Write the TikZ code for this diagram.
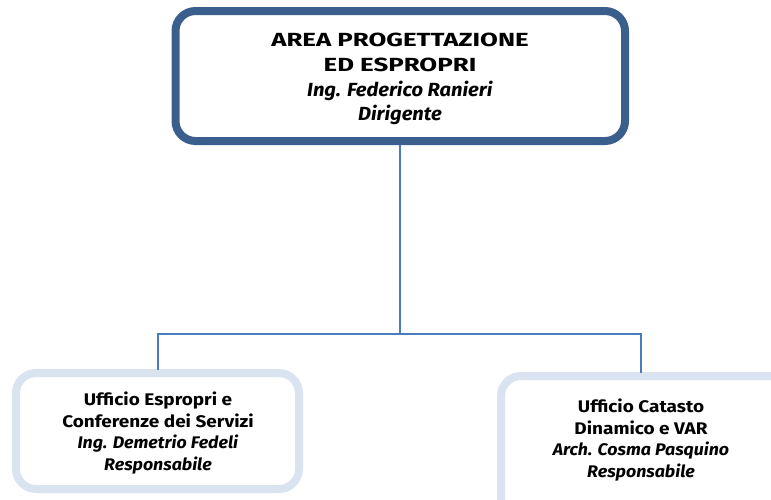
\documentclass[tikz,border=0pt]{standalone}
\usepackage{fontspec}
\setmainfont{Fira Sans}[FakeStretch=1.06]
\newfontfamily\widetop{Fira Sans}[FakeStretch=1.36]
\newfontfamily\widesub{Fira Sans}[FakeStretch=1.13]
\definecolor{topblue}{HTML}{3A5F8C}
\definecolor{lightbox}{HTML}{DAE3F0}
\definecolor{conn}{HTML}{4A7EBB}
\begin{document}
\begin{tikzpicture}[x=1pt,y=-1pt,
  topbox/.style={draw=topblue,line width=8pt,rounded corners=20pt},
  subbox/.style={draw=lightbox,line width=8pt,rounded corners=20pt},
  txt/.style={align=center,font=\fontsize{19}{24.8}\selectfont,inner sep=0pt},
  stxt/.style={align=center,font=\fontsize{16.8}{21.6}\selectfont,inner sep=0pt},
  link/.style={draw=conn,line width=2pt}]
\useasboundingbox (0,0) rectangle (771,499);
\draw[topbox] (175.5,11) rectangle (625,141);
\draw[subbox] (16,373) rectangle (299,489);
\draw[subbox] (501,376) rectangle (800,520);
\node[txt] (top) at (400,79) {{\widetop\bfseries AREA PROGETTAZIONE}\\{\widetop\bfseries ED ESPROPRI}\\\textbf{\textit{Ing. Federico Ranieri}}\\\textbf{\textit{Dirigente}}};
\node[stxt] (left) at (158,433) {{\widesub\bfseries Ufficio Espropri e}\\{\widesub\bfseries Conferenze dei Servizi}\\\textbf{\textit{Ing. Demetrio Fedeli}}\\\textbf{\textit{Responsabile}}};
\node[stxt] (right) at (641,440) {{\widesub\bfseries Ufficio Catasto}\\{\widesub\bfseries Dinamico e VAR}\\\textbf{\textit{Arch. Cosma Pasquino}}\\\textbf{\textit{Responsabile}}};
\coordinate (ts) at (400,145);
\coordinate (mid) at (400,334);
\coordinate (lc) at (158,334);
\coordinate (rc) at (641,334);
\coordinate (le) at (158,370);
\coordinate (re) at (641,373);
\draw[link] (ts) -- (mid);
\draw[link] (le) -- (lc) -- (rc) -- (re);
\end{tikzpicture}
\end{document}
